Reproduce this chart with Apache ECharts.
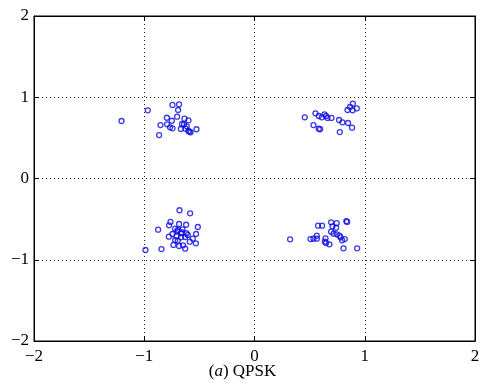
<!DOCTYPE html>
<html>
<head>
<meta charset="utf-8">
<script src="https://cdn.jsdelivr.net/npm/echarts@6/dist/echarts.min.js"></script>
<style>html,body{margin:0;padding:0;background:#fff;}#c{width:485px;height:391px;}</style>
</head>
<body>
<div id="c"></div>
<script>
const xTicks = [-2, -1, 0, 1, 2];
const yTicks = [-2, -1, 0, 1, 2];
const caption = '({i|a}) QPSK';

const clusterUL = [
  [-1.206, 0.708], [-0.968, 0.839], [-0.744, 0.905], [-0.684, 0.913], [-0.693, 0.843],
  [-0.702, 0.761], [-0.795, 0.748], [-0.750, 0.711], [-0.635, 0.736], [-0.599, 0.716],
  [-0.657, 0.671], [-0.668, 0.609], [-0.793, 0.667], [-0.853, 0.658], [-0.766, 0.630],
  [-0.744, 0.618], [-0.639, 0.667], [-0.614, 0.642], [-0.626, 0.613], [-0.599, 0.585],
  [-0.580, 0.569], [-0.590, 0.576], [-0.526, 0.606], [-0.865, 0.535]
];
const clusterUR = [
  [0.456, 0.753], [0.553, 0.802], [0.583, 0.769], [0.610, 0.753], [0.635, 0.790],
  [0.649, 0.769], [0.662, 0.745], [0.698, 0.745], [0.535, 0.658], [0.583, 0.613],
  [0.595, 0.606], [0.767, 0.720], [0.798, 0.692], [0.774, 0.572], [0.849, 0.683],
  [0.885, 0.625], [0.892, 0.921], [0.867, 0.880], [0.844, 0.843], [0.928, 0.864],
  [0.890, 0.840]
];
const clusterLL = [
  [-0.680, -0.391], [-0.584, -0.428], [-0.762, -0.535], [-0.775, -0.576], [-0.684, -0.560],
  [-0.620, -0.569], [-0.514, -0.597], [-0.874, -0.630], [-0.720, -0.618], [-0.696, -0.634],
  [-0.653, -0.625], [-0.744, -0.683], [-0.777, -0.716], [-0.666, -0.674], [-0.617, -0.674],
  [-0.605, -0.695], [-0.530, -0.683], [-0.707, -0.708], [-0.666, -0.724], [-0.629, -0.720],
  [-0.560, -0.741], [-0.696, -0.766], [-0.587, -0.778], [-0.532, -0.798], [-0.735, -0.818],
  [-0.684, -0.831], [-0.648, -0.822], [-0.629, -0.864], [-0.989, -0.880], [-0.844, -0.868],
  [-0.700, -0.650], [-0.660, -0.660], [-0.720, -0.760]
];
const clusterLR = [
  [0.323, -0.748], [0.508, -0.745], [0.535, -0.741], [0.565, -0.741], [0.565, -0.704],
  [0.577, -0.581], [0.613, -0.581], [0.695, -0.539], [0.746, -0.548], [0.707, -0.588],
  [0.740, -0.606], [0.833, -0.525], [0.840, -0.535], [0.695, -0.655], [0.717, -0.679],
  [0.746, -0.687], [0.771, -0.704], [0.780, -0.724], [0.795, -0.761], [0.819, -0.745],
  [0.644, -0.736], [0.638, -0.778], [0.649, -0.794], [0.680, -0.810], [0.807, -0.859],
  [0.931, -0.859]
];

const points = clusterUL.concat(clusterUR, clusterLL, clusterLR);
const fontFam = '"Liberation Serif", "DejaVu Serif", serif';
const fmt = v => String(v).replace('-', '\u2212');

const axisCommon = {
  type: 'value',
  interval: 1,
  axisLine: { show: true, onZero: false, lineStyle: { color: '#000', width: 1 } },
  axisTick: { show: true, inside: true, length: 5, lineStyle: { color: '#000' } },
};

const chart = echarts.init(document.getElementById('c'), null, { renderer: 'canvas' });
chart.setOption({
  animation: false,
  backgroundColor: '#fff',
  title: {
    text: caption,
    left: 'center',
    top: 358,
    textStyle: { fontFamily: fontFam, fontSize: 17, fontWeight: 'normal', color: '#000',
      rich: { i: { fontFamily: fontFam, fontSize: 17, fontStyle: 'italic', color: '#000' } } }
  },
  grid: { left: 34, right: 10, top: 16, bottom: 50, show: true, borderColor: '#000', borderWidth: 1 },
  xAxis: [
    Object.assign({}, axisCommon, {
      min: xTicks[0], max: xTicks[xTicks.length - 1], position: 'bottom',
      axisLabel: { color: '#000', fontFamily: fontFam, fontSize: 17, margin: 7, formatter: fmt },
      splitLine: { show: true, lineStyle: { color: '#222', type: [1, 3], width: 1 } }
    }),
    Object.assign({}, axisCommon, {
      min: xTicks[0], max: xTicks[xTicks.length - 1], position: 'top',
      axisLabel: { show: false }, splitLine: { show: false }
    })
  ],
  yAxis: [
    Object.assign({}, axisCommon, {
      min: yTicks[0], max: yTicks[yTicks.length - 1], position: 'left',
      axisLabel: { color: '#000', fontFamily: fontFam, fontSize: 17, margin: 5, formatter: fmt },
      splitLine: { show: true, lineStyle: { color: '#222', type: [1, 3], width: 1 } }
    }),
    Object.assign({}, axisCommon, {
      min: yTicks[0], max: yTicks[yTicks.length - 1], position: 'right',
      axisLabel: { show: false }, splitLine: { show: false }
    })
  ],
  series: [{
    type: 'scatter',
    data: points,
    symbol: 'circle',
    symbolSize: 5,
    itemStyle: { color: 'rgba(0,0,0,0)', borderColor: '#0a0ae0', borderWidth: 1.3 }
  }]
});
</script>
</body>
</html>
